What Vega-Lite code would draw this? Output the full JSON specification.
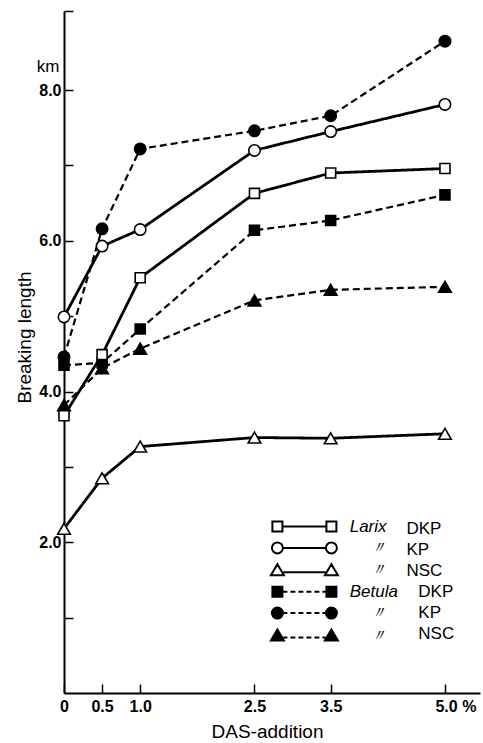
{
  "$schema": "https://vega.github.io/schema/vega-lite/v6.json",
  "width": 416,
  "height": 682,
  "autosize": {"type": "none"},
  "padding": {"left": 64, "top": 11, "right": 3, "bottom": 50},
  "background": "white",
  "config": {"view": {"stroke": null}, "font": "Liberation Sans"},
  "datasets": {
    "curves": [
      {"series": "Betula DKP", "genus": "Betula", "type": "DKP", "pct": 0, "value": 4.35},
      {"series": "Betula DKP", "genus": "Betula", "type": "DKP", "pct": 0.5, "value": 4.38},
      {"series": "Betula DKP", "genus": "Betula", "type": "DKP", "pct": 1.0, "value": 4.83},
      {"series": "Betula DKP", "genus": "Betula", "type": "DKP", "pct": 2.5, "value": 6.14},
      {"series": "Betula DKP", "genus": "Betula", "type": "DKP", "pct": 3.5, "value": 6.27},
      {"series": "Betula DKP", "genus": "Betula", "type": "DKP", "pct": 5.0, "value": 6.61},
      {"series": "Betula KP", "genus": "Betula", "type": "KP", "pct": 0, "value": 4.46},
      {"series": "Betula KP", "genus": "Betula", "type": "KP", "pct": 0.5, "value": 6.16},
      {"series": "Betula KP", "genus": "Betula", "type": "KP", "pct": 1.0, "value": 7.22},
      {"series": "Betula KP", "genus": "Betula", "type": "KP", "pct": 2.5, "value": 7.46},
      {"series": "Betula KP", "genus": "Betula", "type": "KP", "pct": 3.5, "value": 7.66},
      {"series": "Betula KP", "genus": "Betula", "type": "KP", "pct": 5.0, "value": 8.65},
      {"series": "Betula NSC", "genus": "Betula", "type": "NSC", "pct": 0, "value": 3.82},
      {"series": "Betula NSC", "genus": "Betula", "type": "NSC", "pct": 0.5, "value": 4.31},
      {"series": "Betula NSC", "genus": "Betula", "type": "NSC", "pct": 1.0, "value": 4.57},
      {"series": "Betula NSC", "genus": "Betula", "type": "NSC", "pct": 2.5, "value": 5.21},
      {"series": "Betula NSC", "genus": "Betula", "type": "NSC", "pct": 3.5, "value": 5.35},
      {"series": "Betula NSC", "genus": "Betula", "type": "NSC", "pct": 5.0, "value": 5.39},
      {"series": "Larix DKP", "genus": "Larix", "type": "DKP", "pct": 0, "value": 3.68},
      {"series": "Larix DKP", "genus": "Larix", "type": "DKP", "pct": 0.5, "value": 4.49},
      {"series": "Larix DKP", "genus": "Larix", "type": "DKP", "pct": 1.0, "value": 5.51},
      {"series": "Larix DKP", "genus": "Larix", "type": "DKP", "pct": 2.5, "value": 6.63},
      {"series": "Larix DKP", "genus": "Larix", "type": "DKP", "pct": 3.5, "value": 6.90},
      {"series": "Larix DKP", "genus": "Larix", "type": "DKP", "pct": 5.0, "value": 6.96},
      {"series": "Larix KP", "genus": "Larix", "type": "KP", "pct": 0, "value": 4.99},
      {"series": "Larix KP", "genus": "Larix", "type": "KP", "pct": 0.5, "value": 5.93},
      {"series": "Larix KP", "genus": "Larix", "type": "KP", "pct": 1.0, "value": 6.15},
      {"series": "Larix KP", "genus": "Larix", "type": "KP", "pct": 2.5, "value": 7.20},
      {"series": "Larix KP", "genus": "Larix", "type": "KP", "pct": 3.5, "value": 7.45},
      {"series": "Larix KP", "genus": "Larix", "type": "KP", "pct": 5.0, "value": 7.81},
      {"series": "Larix NSC", "genus": "Larix", "type": "NSC", "pct": 0, "value": 2.18},
      {"series": "Larix NSC", "genus": "Larix", "type": "NSC", "pct": 0.5, "value": 2.85},
      {"series": "Larix NSC", "genus": "Larix", "type": "NSC", "pct": 1.0, "value": 3.27},
      {"series": "Larix NSC", "genus": "Larix", "type": "NSC", "pct": 2.5, "value": 3.39},
      {"series": "Larix NSC", "genus": "Larix", "type": "NSC", "pct": 3.5, "value": 3.38},
      {"series": "Larix NSC", "genus": "Larix", "type": "NSC", "pct": 5.0, "value": 3.44}
    ],
    "legend": [
      {"series": "Larix DKP"},
      {"series": "Larix KP"},
      {"series": "Larix NSC"},
      {"series": "Betula DKP"},
      {"series": "Betula KP"},
      {"series": "Betula NSC"}
    ]
  },
  "data": {"name": "curves"},
  "layer": [
    {
      "mark": {"type": "line", "color": "black"},
      "encoding": {
        "x": {
          "field": "pct", "type": "quantitative",
          "scale": {"domain": [0, 5.46], "nice": false, "zero": false},
          "axis": {
            "values": [0, 0.5, 1, 2.5, 3.5, 5],
            "labelExpr": "datum.value == 0 ? '0' : (datum.value == 5 ? '5.0 %' : format(datum.value, '.1f'))",
            "labelAlign": {"condition": {"test": "datum.value == 5", "value": "left"}, "value": "center"},
            "labelOffset": {"condition": {"test": "datum.value == 5", "value": -10}, "value": 0},
            "labelBaseline": "top",
            "labelPadding": 14,
            "labelFont": "Liberation Sans Narrow, Liberation Sans",
            "labelFontSize": 16,
            "labelFontWeight": "bold",
            "labelColor": "black",
            "labelFlush": false,
            "labelOverlap": false,
            "tickSize": -9,
            "tickWidth": 1.5,
            "tickColor": "black",
            "domainColor": "black",
            "domainWidth": 2,
            "grid": false,
            "title": "DAS-addition",
            "titleFont": "Liberation Sans",
            "titleFontSize": 19,
            "titleFontWeight": "normal",
            "titleColor": "black",
            "titleX": 203,
            "titleY": 44,
            "titleAlign": "center",
            "titleBaseline": "alphabetic"
          }
        },
        "y": {
          "field": "value", "type": "quantitative",
          "scale": {"domain": [0, 9.05], "nice": false, "zero": false},
          "axis": {
            "values": [1, 2, 3, 4, 5, 6, 7, 8, 9.05],
            "labelExpr": "(datum.value == 2 || datum.value == 4 || datum.value == 6 || datum.value == 8) ? format(datum.value, '.1f') : ''",
            "labelBaseline": "middle",
            "labelPadding": 12,
            "labelFont": "Liberation Sans Narrow, Liberation Sans",
            "labelFontSize": 16,
            "labelFontWeight": "bold",
            "labelColor": "black",
            "labelOverlap": false,
            "tickSize": -9,
            "tickWidth": 1.5,
            "tickColor": "black",
            "domainColor": "black",
            "domainWidth": 2,
            "grid": false,
            "title": "Breaking length",
            "titleFont": "Liberation Sans",
            "titleFontSize": 19,
            "titleFontWeight": "normal",
            "titleColor": "black",
            "titleAngle": 270,
            "titleX": -40,
            "titleY": 326,
            "titleAlign": "center",
            "titleBaseline": "middle"
          }
        },
        "detail": {"field": "series", "type": "nominal"},
        "strokeDash": {
          "field": "genus", "type": "nominal",
          "scale": {"domain": ["Larix", "Betula"], "range": [[1, 0], [7, 4]]},
          "legend": null
        },
        "strokeWidth": {
          "field": "genus", "type": "nominal",
          "scale": {"domain": ["Larix", "Betula"], "range": [2.8, 2.2]},
          "legend": null
        }
      }
    },
    {
      "mark": {"type": "point", "filled": true, "stroke": "black", "strokeWidth": 1.6, "opacity": 1},
      "encoding": {
        "x": {"field": "pct", "type": "quantitative"},
        "y": {"field": "value", "type": "quantitative"},
        "shape": {
          "field": "type", "type": "nominal",
          "scale": {"domain": ["DKP", "KP", "NSC"], "range": ["square", "circle", "triangle-up"]},
          "legend": null
        },
        "fill": {
          "field": "genus", "type": "nominal",
          "scale": {"domain": ["Larix", "Betula"], "range": ["white", "black"]},
          "legend": null
        },
        "size": {
          "field": "type", "type": "ordinal",
          "scale": {"domain": ["DKP", "KP", "NSC"], "range": [100, 160]},
          "legend": null
        }
      }
    },
    {
      "data": {"values": [{}]},
      "mark": {"type": "text", "text": "km", "dx": -16, "align": "center", "baseline": "alphabetic", "fontSize": 17, "font": "Liberation Sans", "color": "black"},
      "encoding": {
        "x": {"datum": 0, "type": "quantitative"},
        "y": {"datum": 8.24, "type": "quantitative"}
      }
    },
    {
      "data": {"name": "legend"},
      "mark": {"type": "point", "filled": true, "strokeWidth": 2, "opacity": 0},
      "encoding": {
        "shape": {
          "field": "series", "type": "nominal",
          "scale": {
            "domain": ["Larix DKP", "Larix KP", "Larix NSC", "Betula DKP", "Betula KP", "Betula NSC"],
            "range": [
              "M-32,-5H-22V5H-32ZM22,-5H32V5H22ZM-22,0H22",
              "M-21.5,0A5.5,5.5,0,1,1,-32.5,0A5.5,5.5,0,1,1,-21.5,0ZM32.5,0A5.5,5.5,0,1,1,21.5,0A5.5,5.5,0,1,1,32.5,0ZM-21.5,0H21.5",
              "M-27,-6L-20.5,5H-33.5ZM27,-6L33.5,5H20.5ZM-21,2H21",
              "M-32,-5H-22V5H-32ZM22,-5H32V5H22ZM-22,0H-17M-14,0H-9M-6,0H-1M2,0H7M10,0H15M18,0H22",
              "M-21.5,0A5.5,5.5,0,1,1,-32.5,0A5.5,5.5,0,1,1,-21.5,0ZM32.5,0A5.5,5.5,0,1,1,21.5,0A5.5,5.5,0,1,1,32.5,0ZM-21.5,0H-17M-14,0H-9M-6,0H-1M2,0H7M10,0H15M18,0H21.5",
              "M-27,-6L-20.5,5H-33.5ZM27,-6L33.5,5H20.5ZM-21,2H-17M-14,2H-9M-6,2H-1M2,2H7M10,2H15M18,2H21"
            ]
          },
          "legend": {
            "orient": "none",
            "legendX": 231.9,
            "legendY": 507,
            "title": null,
            "padding": 0,
            "symbolSize": 4,
            "symbolStrokeWidth": 2,
            "symbolOpacity": 1,
            "labelExpr": "datum.label == 'Larix DKP' ? 'Larix' : (datum.label == 'Betula DKP' ? 'Betula' : '\u200b\u2002\u2002\u2009〃')",
            "labelFont": "Liberation Sans",
            "labelFontSize": 17,
            "labelFontStyle": "italic",
            "labelColor": "black",
            "labelOffset": 36.8,
            "labelLimit": 0,
            "rowPadding": 2.4
          }
        },
        "fill": {
          "field": "series", "type": "nominal",
          "scale": {
            "domain": ["Larix DKP", "Larix KP", "Larix NSC", "Betula DKP", "Betula KP", "Betula NSC"],
            "range": ["white", "white", "white", "black", "black", "black"]
          }
        },
        "stroke": {
          "field": "series", "type": "nominal",
          "scale": {
            "domain": ["Larix DKP", "Larix KP", "Larix NSC", "Betula DKP", "Betula KP", "Betula NSC"],
            "range": ["black", "black", "black", "black", "black", "black"]
          }
        }
      }
    },
    {
      "data": {"name": "legend"},
      "mark": {"type": "point", "opacity": 0},
      "encoding": {
        "shape": {
          "field": "series", "type": "nominal",
          "scale": {
            "domain": ["Larix DKP", "Larix KP", "Larix NSC", "Betula DKP", "Betula KP", "Betula NSC"],
            "range": ["M0,0", "M0,0", "M0,0", "M0,0", "M0,0", "M0,0"]
          },
          "legend": {
            "orient": "none",
            "legendX": 325.4,
            "legendY": 509,
            "title": null,
            "padding": 0,
            "symbolSize": 1,
            "symbolOpacity": 0,
            "labelExpr": "replace(replace(datum.label, 'Larix ', ''), 'Betula ', '\u200b\u2002\u2009')",
            "labelFont": "Liberation Sans",
            "labelFontSize": 17,
            "labelFontStyle": "normal",
            "labelColor": "black",
            "labelOffset": 0,
            "labelLimit": 0,
            "rowPadding": 3.0
          }
        }
      }
    }
  ],
  "resolve": {
    "scale": {"shape": "independent", "fill": "independent", "stroke": "independent", "size": "independent", "strokeDash": "independent", "strokeWidth": "independent"},
    "legend": {"shape": "independent", "fill": "independent", "stroke": "independent"}
  }
}
